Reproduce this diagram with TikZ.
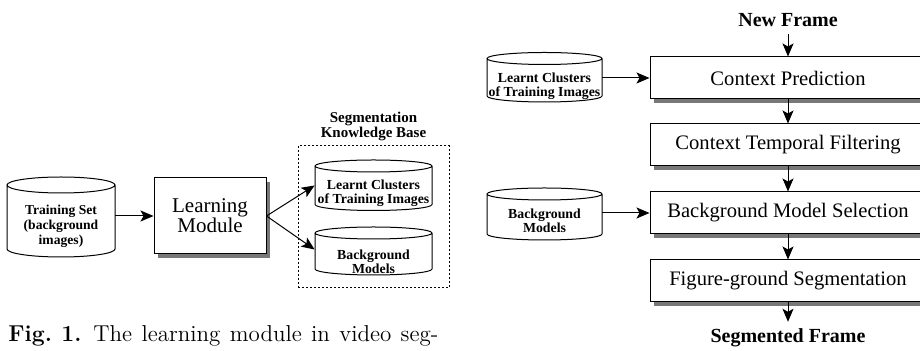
\documentclass[tikz,border=0pt]{standalone}
\usepackage{fontspec}
\usepackage{xcolor}
\usepackage{tikz}
\usetikzlibrary{shadows,arrows.meta}
\newfontfamily\timesfont{Liberation Serif}
\definecolor{shadowgray}{RGB}{120,120,120}

% outline of a data store round a named node:
% [ellipse y radius]{node}{half width}{height above centre}{depth below centre}
\newcommand\drawcyl[5][3pt]{%
  \draw[line width=0.5pt] ([yshift=#4-#1]#2.center) ellipse[x radius=#3, y radius=#1]
    ([xshift=-#3, yshift=#4-#1]#2.center) -- ([xshift=-#3, yshift=-#5+#1]#2.center)
    arc[start angle=180, end angle=360, x radius=#3, y radius=#1]
    -- ([xshift=#3, yshift=#4-#1]#2.center);}

\begin{document}
\begin{tikzpicture}[x=0.5pt, y=-0.5pt,
  box/.style={draw, line width=0.5pt, fill=white, align=center, inner sep=0pt,
    drop shadow={shadow xshift=2pt, shadow yshift=-2pt, fill=shadowgray, opacity=1}},
  stage/.style={box, minimum width=138pt, minimum height=21pt,
    font=\timesfont\fontsize{10.3}{12}\selectfont},
  store/.style={align=center, inner sep=0pt,
    font=\timesfont\bfseries\fontsize{6.9}{6.8}\selectfont},
  flow/.style={line width=0.5pt, -{Stealth[length=6.5pt, width=5.5pt, inset=1.5pt]}},
  title/.style={font=\timesfont\bfseries\fontsize{10}{11}\selectfont}]
\useasboundingbox (0,0) rectangle (920,351);

% Learning module
\node[store, minimum width=54pt, font=\timesfont\bfseries\fontsize{6.8}{7.5}\selectfont] (train) at (61,226) {Training Set\\(background\\images)};
\drawcyl[4pt]{train}{27pt}{24.5pt}{15.5pt}
\node[box, minimum width=56pt, minimum height=38pt, font=\timesfont\fontsize{10.5}{10}\selectfont] (learn) at (210,216) {Learning\\Module};
\node[store, minimum width=58.5pt] (clustA) at (373.5,193.5) {Learnt Clusters\\of Training Images};
\drawcyl{clustA}{29.25pt}{16.75pt}{8.5pt}
\node[store, minimum width=58.5pt] (modelA) at (373.5,261.5) {Background\\Models};
\drawcyl{modelA}{29.25pt}{17.25pt}{6.75pt}
\node[draw, line width=0.5pt, dash pattern=on 1pt off 1pt, minimum width=75.5pt, minimum height=71pt] (kb) at (373.5,217) {};
\node[align=center, font=\timesfont\bfseries\fontsize{7.5}{7.5}\selectfont] (kbtitle) at (373.5,126) {Segmentation\\Knowledge Base};
\draw[flow] (train.east |- learn) -- (learn);
\draw[flow] (learn.east) -- ([yshift=4pt]clustA.west);
\draw[flow] (learn.east) -- ([yshift=6pt]modelA.west);
\node[anchor=base west, inner sep=0pt, font=\fontsize{11.5}{13}\selectfont] (caption) at (8,342) {\spaceskip=4.7pt\relax\textbf{Fig.~1.} The learning module in video seg-};

% Segmentation pipeline
\node[title] (newf) at (788,20) {New Frame};
\node[stage] (pred) at (788,78) {Context Prediction};
\node[stage] (filt) at (788,145) {Context Temporal Filtering};
\node[stage] (sel) at (788,213) {Background Model Selection};
\node[stage] (seg) at (788,281) {Figure-ground Segmentation};
\node[title] (segf) at (788,338) {Segmented Frame};
\node[store, minimum width=57.5pt] (clustB) at (544.5,86.5) {Learnt Clusters\\of Training Images};
\drawcyl{clustB}{28.75pt}{17pt}{7.75pt}
\node[store, minimum width=57.5pt] (modelB) at (544.5,221) {Background\\Models};
\drawcyl{modelB}{28.75pt}{16.5pt}{9.5pt}
\foreach \a/\b in {newf/pred, pred/filt, filt/sel, sel/seg, seg/segf}
  \draw[flow] (\a) -- (\b);
\draw[flow] (clustB.east |- pred) -- (pred);
\draw[flow] (modelB.east |- sel) -- (sel);
\end{tikzpicture}
\end{document}
